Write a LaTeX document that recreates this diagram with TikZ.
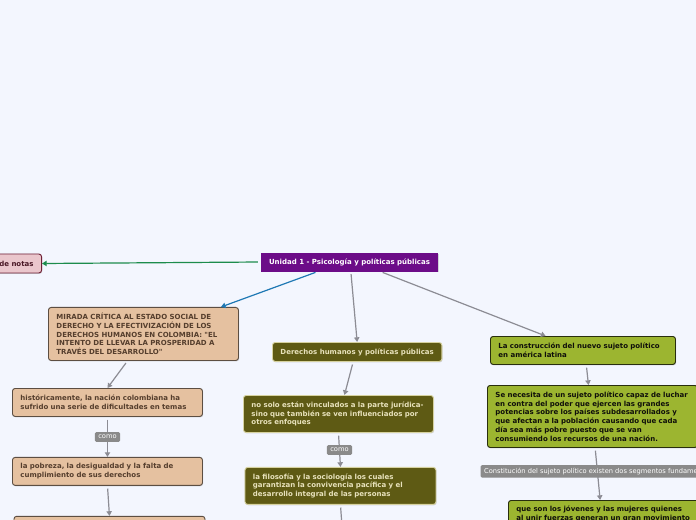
\documentclass[tikz,border=0pt]{standalone}
\usepackage{fontspec}
\newfontfamily\mapfont{DejaVu Sans}
\usetikzlibrary{positioning,arrows.meta,shadows}
\definecolor{paper}{RGB}{243,246,254}
\definecolor{rootfill}{RGB}{108,12,136}
\definecolor{notefill}{RGB}{234,198,204}
\definecolor{noteline}{RGB}{110,32,54}
\definecolor{notetext}{RGB}{72,22,36}
\definecolor{tanfill}{RGB}{229,193,160}
\definecolor{tanline}{RGB}{92,78,66}
\definecolor{tantext}{RGB}{85,62,45}
\definecolor{olivefill}{RGB}{94,90,20}
\definecolor{oliveline}{RGB}{214,210,160}
\definecolor{olivetext}{RGB}{232,226,188}
\definecolor{limefill}{RGB}{156,181,48}
\definecolor{limeline}{RGB}{40,46,14}
\definecolor{limetext}{RGB}{15,15,10}
\definecolor{linkgray}{RGB}{140,140,148}
\definecolor{lblgray}{RGB}{138,138,138}
\definecolor{blueline}{RGB}{30,120,180}
\definecolor{greenline}{RGB}{28,140,76}

\begin{document}
\begin{tikzpicture}[x=0.75pt,y=-0.75pt,
        topic/.style={draw, rounded corners=2pt, line width=0.7pt, align=left,
                inner xsep=6pt, inner ysep=3pt,
                font=\mapfont\bfseries\fontsize{5.25}{6.6}\selectfont,
                drop shadow={shadow xshift=0.5pt, shadow yshift=-0.7pt, opacity=0.3}},
        rootbox/.style={topic, rounded corners=0pt, fill=rootfill, draw=rootfill, text=white, align=center},
        notebox/.style={topic, fill=notefill, draw=noteline, text=notetext},
        tanbox/.style={topic, fill=tanfill, draw=tanline, text=tantext},
        olivebox/.style={topic, fill=olivefill, draw=oliveline, text=olivetext},
        limebox/.style={topic, fill=limefill, draw=limeline, text=limetext},
        link/.style={draw=linkgray, line width=0.9pt, shorten <=2pt,
                -{Triangle[width=4pt,length=3.5pt]}},
        lbl/.style={fill=lblgray, text=white, rounded corners=1pt, inner xsep=2.6pt, inner ysep=2.2pt,
                font=\mapfont\fontsize{5}{5.2}\selectfont}]

        \fill[paper] (0,0) rectangle (696,520);
        \useasboundingbox (0,0) rectangle (696,520);
        \clip (0,0) rectangle (696,520);

        % central topic
        \node[rootbox, minimum width=131pt, minimum height=13.5pt] (unidad) at (349.5,262)
                {Unidad 1 - Psicología y políticas públicas};
        \node[notebox, anchor=east, text width=70pt, align=right, minimum height=14.25pt] (notas) at (42,263.5)
                {de notas};

        % left branch
        \node[tanbox, anchor=north west, text width=130.5pt, minimum height=39.75pt] (mirada) at (48,307)
                {MIRADA CRÍTICA AL ESTADO SOCIAL DE\\DERECHO Y LA EFECTIVIZACIÓN DE LOS\\DERECHOS HUMANOS EN COLOMBIA: "EL\\INTENTO DE LLEVAR LA PROSPERIDAD A\\TRAVÉS DEL DESARROLLO"};
        \node[tanbox, anchor=north west, text width=130.5pt, minimum height=21pt] (historia) at (12,388)
                {históricamente, la nación colombiana ha\\sufrido una serie de dificultades en temas};
        \node[tanbox, below=30pt of historia, text width=130.5pt, minimum height=21pt] (pobreza)
                {la pobreza, la desigualdad y la falta de\\cumplimiento de sus derechos};
        \node[tanbox, below=22.5pt of pobreza, xshift=1.5pt, text width=131.25pt, minimum height=21pt] (bajo) {};

        % middle branch
        \node[olivebox, anchor=north west, minimum width=126pt, minimum height=14.25pt, align=center] (derechos) at (272,342)
                {Derechos humanos y políticas públicas};
        \node[olivebox, anchor=north west, text width=130.5pt, minimum height=27.75pt] (nosolo) at (243,395)
                {no solo están vinculados a la parte jurídica-\\sino que también se ven influenciados por\\otros enfoques};
        \node[olivebox, below=25.5pt of nosolo, xshift=1.5pt, text width=131.25pt, minimum height=27.75pt] (filosofia)
                {la filosofía y la sociología los cuales\\garantizan la convivencia pacífica y el\\desarrollo integral de las personas};
        \coordinate (sigue) at (343,540);

        % right branch
        \node[limebox, anchor=north west, text width=126.75pt, minimum height=21pt] (sujeto) at (490,336)
                {La construcción del nuevo sujeto político\\en américa latina};
        \node[limebox, anchor=north west, text width=145.5pt, minimum height=46.5pt] (necesita) at (487,385)
                {Se necesita de un sujeto político capaz de luchar\\en contra del poder que ejercen las grandes\\potencias sobre los países subdesarrollados y\\que afectan a la población causando que cada\\día sea más pobre puesto que se van\\consumiendo los recursos de una nación.};
        \node[limebox, anchor=north west, text width=145.5pt, inner ysep=4pt] (jovenes) at (508,500)
                {que son los jóvenes y las mujeres quienes\\al unir fuerzas generan un gran movimiento\\ };

        % connectors
        \draw[link, draw=greenline] (unidad.west) -- (notas.east);
        \draw[link, draw=blueline] ([xshift=-23.6pt]unidad.south) -- ([xshift=-13.5pt]mirada.north east);
        \draw[link] ([xshift=1pt]unidad.south) -- (derechos.north);
        \draw[link] ([xshift=23pt]unidad.south) -- ([xshift=-28pt]sujeto.north);

        \draw[link] ([xshift=-12pt]mirada.south) -- (historia.north);
        \draw[link] (historia.south) -- node[lbl] {como} (pobreza.north);
        \draw[link] (pobreza.south) -- (bajo.north);

        \draw[link] ([xshift=-3pt]derechos.south) -- ([xshift=4.5pt]nosolo.north);
        \draw[link] (nosolo.south) -- node[lbl] {como} (filosofia.north);
        \draw[link] (filosofia.south) -- (sigue);

        \draw[link] ([xshift=2.5pt]sujeto.south) -- ([xshift=-3pt]necesita.north);
        \draw[link] ([xshift=2pt]necesita.south) -- node[lbl, pos=0.45, anchor=west, xshift=-88pt]
                {Constitución del sujeto político existen dos segmentos fundamen} ([xshift=-10pt]jovenes.north);
\end{tikzpicture}
\end{document}
